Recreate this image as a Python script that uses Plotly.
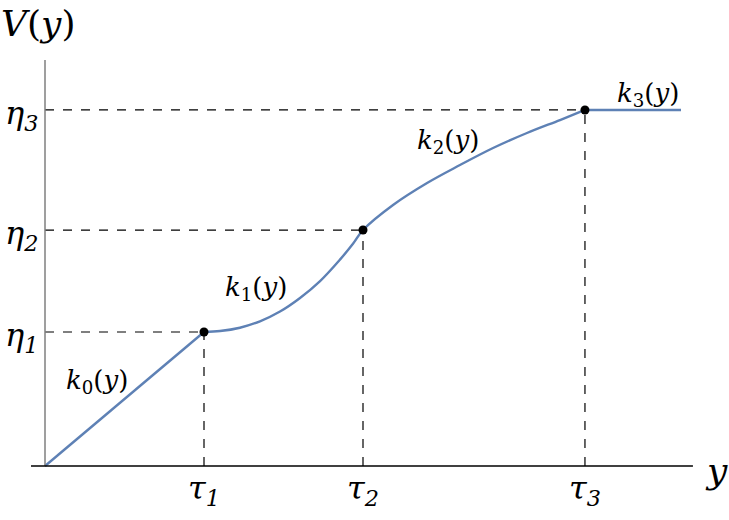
import plotly.graph_objects as go

# breakpoints (x in units of tau1, y in units of eta1)
tau = [1.0, 2.0, 3.396]
eta = [1.0, 1.761, 2.657]
tau_labels = ["τ<sub>1</sub>", "τ<sub>2</sub>", "τ<sub>3</sub>"]
eta_labels = ["η<sub>1</sub>", "η<sub>2</sub>", "η<sub>3</sub>"]

# piecewise curve
k0_x = [0.0, 1.0]
k0_y = [0.0, 1.0]
k1_x = [1.0, 1.101, 1.226, 1.352, 1.478, 1.604, 1.730, 1.855, 1.937, 2.0]
k1_y = [1.0, 1.007, 1.032, 1.080, 1.153, 1.254, 1.380, 1.540, 1.658, 1.761]
k2_x = [2.0, 2.189, 2.403, 2.610, 2.818, 3.031, 3.239, 3.396]
k2_y = [1.761, 1.948, 2.112, 2.246, 2.373, 2.485, 2.582, 2.657]
k3_x = [3.396, 4.0]
k3_y = [2.657, 2.657]

BLUE = "#5e81b5"
SERIF = "DejaVu Serif"

fig = go.Figure()

# k1 and k2 join smoothly at tau2, so draw them as one spline
mid_x = k1_x + k2_x[1:]
mid_y = k1_y + k2_y[1:]
for xs, ys, shape in [(k0_x, k0_y, "linear"), (mid_x, mid_y, "spline"),
                      (k3_x, k3_y, "linear")]:
    fig.add_trace(go.Scatter(x=xs, y=ys, mode="lines",
                             line=dict(color=BLUE, width=2.4, shape=shape),
                             showlegend=False, hoverinfo="skip"))

# dashed guides
for t, e in zip(tau, eta):
    fig.add_shape(type="line", x0=0, y0=e, x1=t, y1=e,
                  line=dict(color="black", width=1.2, dash="dash"))
    fig.add_shape(type="line", x0=t, y0=0, x1=t, y1=e,
                  line=dict(color="black", width=1.2, dash="dash"))

# axes
fig.add_shape(type="line", x0=0, y0=0, x1=0, y1=3.03,
              line=dict(color="#7f7f7f", width=1.5))
fig.add_shape(type="line", x0=-0.088, y0=0, x1=4.075, y1=0,
              line=dict(color="black", width=1.5))

fig.add_trace(go.Scatter(x=tau, y=eta, mode="markers",
                         marker=dict(color="black", size=9),
                         showlegend=False, hoverinfo="skip"))

font_big = dict(family=SERIF, size=32, color="black")
for t, lab in zip(tau, tau_labels):
    fig.add_annotation(x=t, y=-0.18, text=f"<i>{lab}</i>", showarrow=False,
                       font=font_big, yanchor="middle")
for e, lab in zip(eta, eta_labels):
    fig.add_annotation(x=-0.15, y=e - 0.04, text=f"<i>{lab}</i>", showarrow=False,
                       font=font_big, xanchor="center")

fig.add_annotation(x=-0.045, y=3.30, text="<i>V</i>(<i>y</i>)", showarrow=False,
                   font=dict(family=SERIF, size=36, color="black"))
fig.add_annotation(x=4.226, y=-0.03, text="<i>y</i>", showarrow=False,
                   font=dict(family=SERIF, size=36, color="black"))

font_k = dict(family=SERIF, size=26, color="black")
k_labels = [("<i>k</i><sub>0</sub>(<i>y</i>)", 0.327, 0.627),
            ("<i>k</i><sub>1</sub>(<i>y</i>)", 1.327, 1.328),
            ("<i>k</i><sub>2</sub>(<i>y</i>)", 2.535, 2.418),
            ("<i>k</i><sub>3</sub>(<i>y</i>)", 3.79, 2.776)]
for text, x, y in k_labels:
    fig.add_annotation(x=x, y=y, text=text, showarrow=False, font=font_k)

fig.update_layout(
    width=729, height=520,
    margin=dict(l=0, r=0, t=0, b=0),
    paper_bgcolor="white", plot_bgcolor="white",
    font=dict(family=SERIF),
    xaxis=dict(range=[-45 / 159, 684 / 159], visible=False, fixedrange=True),
    yaxis=dict(range=[-54 / 134, 466 / 134], visible=False, fixedrange=True),
)

# drop the default 8px page margin so the figure sits at the window corner
fig.write_html("out.html", config={"displayModeBar": False},
               post_script="document.body.style.margin = '0';")
